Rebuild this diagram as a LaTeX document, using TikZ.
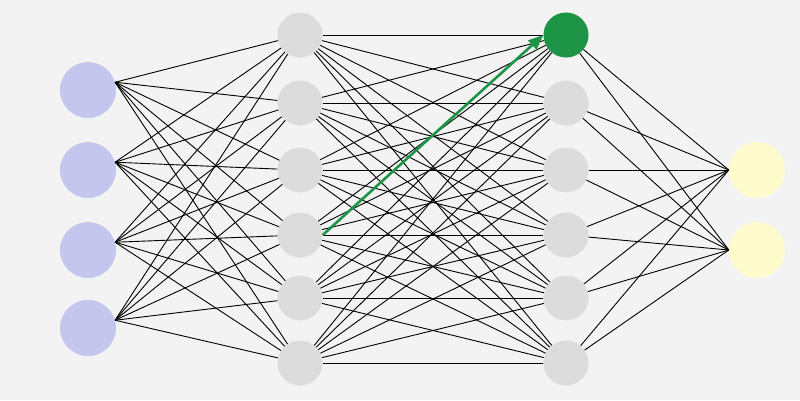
\documentclass[tikz,border=0pt]{standalone}
\usetikzlibrary{arrows.meta}
\definecolor{bgcol}{HTML}{F3F3F3}
\definecolor{incol}{HTML}{C4C6EE}
\definecolor{hidcol}{HTML}{DCDCDC}
\definecolor{outcol}{HTML}{FEFCCC}
\definecolor{actcol}{HTML}{1E9446}
\tikzset{
    neuron/.style={circle,inner sep=0pt,draw=none},
    inneuron/.style={neuron,fill=incol,minimum size=56pt},
    hidneuron/.style={neuron,fill=hidcol,minimum size=45pt},
    outneuron/.style={neuron,fill=outcol,minimum size=56pt},
    link/.style={black,line width=0.9pt}
}
\begin{document}
\begin{tikzpicture}[x=1pt,y=-1pt]
    \fill[bgcol] (0,0) rectangle (800,400);
    \useasboundingbox (0,0) rectangle (800,400);
    % layers
    \foreach \i/\y in {1/90,2/170,3/250,4/328}
        \node[inneuron] (in\i) at (88,\y) {};
    \foreach \i/\y in {1/35,2/103,3/170,4/235,5/298,6/363}
        \node[hidneuron] (ha\i) at (300,\y) {};
    \foreach \i/\y in {1/35,2/103,3/170,4/235,5/298,6/363}
        \node[hidneuron] (hb\i) at (566,\y) {};
    \node[hidneuron,fill=actcol] at (hb1) {};
    \foreach \i/\y in {1/170,2/250}
        \node[outneuron] (out\i) at (757,\y) {};
    % connections
    \foreach \i in {1,...,4}
        \foreach \j in {1,...,6}
            \draw[link] (in\i.16) -- (ha\j);
    \foreach \i in {1,...,6}
        \foreach \j in {1,...,6}
            \draw[link] (ha\i) -- (hb\j);
    \foreach \i in {1,...,6}
        \foreach \j in {1,2}
            \draw[link] (hb\i) -- (out\j.west);
    \draw[actcol,line width=2.6pt,-{Triangle[length=15pt,width=12pt]}] (ha4.east) -- (hb1.west);
\end{tikzpicture}
\end{document}
